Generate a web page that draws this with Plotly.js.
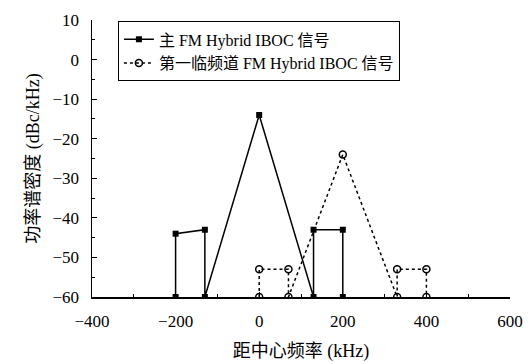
<!DOCTYPE html>
<html><head><meta charset="utf-8">
<script src="https://cdn.plot.ly/plotly-3.0.1.min.js"></script>
<style>html,body{margin:0;padding:0;background:#fff}</style>
</head><body><div id="chart" style="width:528px;height:364px"></div>
<script>
const mainX = [-200, -200, -130, -130, 0, 130, 130, 200, 200];
const mainY = [-60, -44, -43, -60, -14, -60, -43, -43, -60];
const adjX = [0, 0, 70, 70, 200, 330, 330, 400, 400];
const adjY = [-60, -53, -53, -60, -24, -60, -53, -53, -60];
const seriesNames = ['主 FM Hybrid IBOC 信号', '第一临频道 FM Hybrid IBOC 信号'];
const xTicks = [-400, -200, 0, 200, 400, 600];
const yTicks = [10, 0, -10, -20, -30, -40, -50, -60];

const font = "'Liberation Serif', 'Noto Sans CJK SC', serif";
const data = [
  {x: mainX, y: mainY, name: seriesNames[0], type: 'scatter', mode: 'lines+markers',
   line: {color: '#000', width: 1.5},
   marker: {symbol: 'square', size: 6, color: '#000'}},
  {x: adjX, y: adjY, name: seriesNames[1], type: 'scatter', mode: 'lines+markers',
   line: {color: '#000', width: 1.5, dash: '3px,3px'},
   marker: {symbol: 'circle-open', size: 7, color: '#000', line: {width: 1.5}}}
];
const axisCommon = {showgrid: false, zeroline: false, showline: true, linecolor: '#000', linewidth: 1.5,
  ticks: 'inside', ticklen: 5, tickcolor: '#000', tickwidth: 1, ticklabelstandoff: 8,
  tickfont: {family: font, size: 17, color: '#000'}};
const layout = {
  width: 528, height: 364,
  margin: {l: 92, r: 18, t: 20, b: 67},
  paper_bgcolor: '#fff', plot_bgcolor: '#fff',
  showlegend: true,
  legend: {x: 0.062, y: 0.995, xanchor: 'left', yanchor: 'top', bordercolor: '#000', borderwidth: 1,
    bgcolor: '#fff', font: {family: font, size: 16, color: '#000'}, tracegroupgap: 0, itemwidth: 30},
  xaxis: Object.assign({}, axisCommon, {range: [-400, 600], tickvals: xTicks,
    minor: {dtick: 100, ticks: 'inside', ticklen: 3, tickcolor: '#000'},
    title: {text: '距中心频率 (kHz)', font: {family: font, size: 18, color: '#000'}, standoff: 14}}),
  yaxis: Object.assign({}, axisCommon, {range: [-60, 10], tickvals: yTicks,
    minor: {dtick: 5, ticks: 'inside', ticklen: 3, tickcolor: '#000'},
    title: {text: '功率谱密度 (dBc/kHz)', font: {family: font, size: 18, color: '#000'}, standoff: 8}})
};
Plotly.newPlot('chart', data, layout, {displayModeBar: false, staticPlot: true});
</script></body></html>
